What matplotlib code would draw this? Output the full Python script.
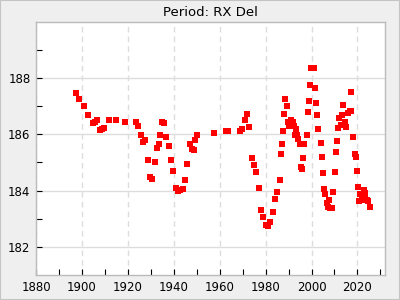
import matplotlib
matplotlib.use("Agg")
import matplotlib.pyplot as plt
from matplotlib.ticker import MultipleLocator, FixedLocator
from matplotlib.patches import Rectangle

years = [
    1897.6, 1898.6, 1900.8, 1902.5, 1904.7, 1905.6, 1906.4, 1907.7, 1908.6, 1909.5,
    1911.7, 1914.7, 1918.6, 1923.4, 1924.3, 1925.6, 1926.5, 1927.3, 1928.6, 1929.5,
    1930.4, 1931.7, 1932.6, 1933.4, 1933.9, 1934.7, 1935.6, 1936.5, 1937.8, 1938.7,
    1939.5, 1940.8, 1941.7, 1942.6, 1943.9, 1944.8, 1945.6, 1946.9, 1947.8, 1948.7,
    1949.1, 1950.0, 1957.4, 1962.6, 1963.5, 1968.7, 1969.6, 1970.9, 1971.8, 1972.6,
    1973.9, 1974.8, 1975.7, 1977.0, 1977.9, 1978.7, 1980.0, 1980.9, 1981.8, 1983.1,
    1984.0, 1984.8, 1986.1, 1986.6, 1987.0, 1987.4, 1987.9, 1988.3, 1989.2, 1989.6,
    1990.2, 1990.9, 1991.2, 1991.8, 1992.2, 1992.7, 1993.1, 1993.5, 1994.0, 1994.9,
    1995.3, 1995.7, 1996.2, 1996.6, 1997.9, 1998.3, 1998.8, 1999.2, 1999.6, 2000.9,
    2001.4, 2001.8, 2002.3, 2002.7, 2004.0, 2004.4, 2004.9, 2005.3, 2005.7, 2006.6,
    2007.0, 2007.5, 2007.9, 2008.8, 2009.2, 2010.1, 2010.5, 2011.0, 2011.4, 2011.8,
    2012.7, 2013.1, 2013.6, 2013.9, 2014.5, 2014.9, 2015.8, 2016.6, 2017.1, 2017.4,
    2017.9, 2018.8, 2019.2, 2019.7, 2020.1, 2020.6, 2021.0, 2021.9, 2022.5, 2022.7,
    2023.2, 2023.5, 2024.0, 2024.8, 2025.3,
]
periods = [
    187.47, 187.26, 187.01, 186.70, 186.39, 186.42, 186.52, 186.14, 186.18, 186.24,
    186.49, 186.49, 186.45, 186.42, 186.31, 185.99, 185.71, 185.78, 185.08, 184.48,
    184.41, 185.01, 185.50, 185.64, 185.99, 186.42, 186.39, 185.92, 185.57, 185.08,
    184.69, 184.09, 183.99, 184.02, 184.06, 184.37, 184.94, 185.64, 185.46, 185.43,
    185.78, 185.99, 186.06, 186.10, 186.10, 186.13, 186.20, 186.49, 186.73, 186.27,
    185.15, 184.90, 184.66, 184.09, 183.32, 183.07, 182.79, 182.75, 182.89, 183.25,
    183.70, 183.95, 184.37, 185.29, 185.64, 186.13, 186.73, 187.26, 187.01, 186.42,
    186.31, 186.49, 186.31, 186.42, 186.31, 185.96, 186.20, 185.99, 185.82, 185.64,
    184.83, 184.76, 185.15, 185.64, 185.99, 186.80, 187.19, 187.75, 188.35, 188.35,
    187.65, 187.12, 186.70, 186.17, 185.68, 185.18, 184.62, 184.06, 183.88, 183.56,
    183.42, 183.67, 183.39, 183.39, 183.95, 184.65, 185.36, 185.75, 186.24, 186.59,
    186.34, 186.70, 187.05, 187.03, 186.42, 186.27, 186.77, 186.84, 187.51, 186.84,
    185.92, 185.29, 185.18, 184.69, 184.13, 183.63, 183.88, 183.67, 183.67, 184.02,
    183.92, 183.88, 183.67, 183.63, 183.42,
]
y_major = [182, 184, 186, 188]
y_minor = [183, 185, 187, 189]

fig = plt.figure(figsize=(4, 3), dpi=100, facecolor="#efefef")
fig.patches.append(Rectangle((0, 0), 1, 1, transform=fig.transFigure,
                             fill=False, edgecolor="#c4c4c4", linewidth=1.5))
ax = fig.add_axes([0.09, 0.0833, 0.8725, 0.8444])
ax.set_facecolor("white")

ax.plot(years, periods, linestyle="none", marker="s", markersize=4.3,
        color="#ff0000", markeredgewidth=0)

ax.set_xlim(1880, 2032)
ax.set_ylim(181, 190)
ax.xaxis.set_major_locator(MultipleLocator(20))
ax.xaxis.set_minor_locator(MultipleLocator(10))
ax.yaxis.set_major_locator(FixedLocator(y_major))
ax.yaxis.set_minor_locator(FixedLocator(y_minor))

ax.grid(axis="x", which="major", color="#dddddd", linestyle=(0, (4, 3)), linewidth=1)
ax.grid(axis="y", which="major", color="#dddddd", linestyle="-", linewidth=1)
ax.set_axisbelow(True)

ax.tick_params(which="both", direction="in", length=4, width=0.8,
               color="black", labelsize=8.5, top=False, right=False, pad=4)
for s in ax.spines.values():
    s.set_color("#bbbbbb")
    s.set_linewidth(1)

ax.set_title("Period: RX Del", fontsize=9.5, pad=4)

fig.savefig("out.png", dpi=100, facecolor=fig.get_facecolor())
